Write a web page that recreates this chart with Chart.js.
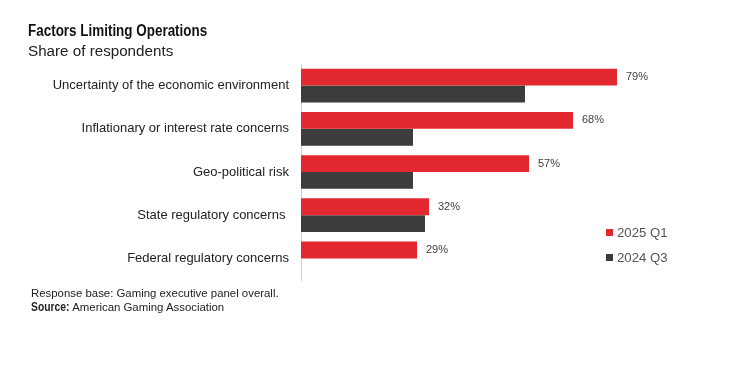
<!DOCTYPE html>
<html>
<head>
<meta charset="utf-8">
<script src="https://cdn.jsdelivr.net/npm/chart.js@4/dist/chart.umd.min.js"></script>
<style>
  html, body { margin: 0; padding: 0; background: #fff; }
  #wrap { position: relative; width: 736px; height: 373px; overflow: hidden; font-family: "Liberation Sans", Arial, sans-serif; }
  #chart { position: absolute; left: 0; top: 0; }
  .title { position: absolute; left: 28px; top: 22px; font-weight: bold; font-size: 16px; color: #111; white-space: nowrap; transform: scaleX(0.84); transform-origin: 0 0; }
  .subtitle { position: absolute; left: 28px; top: 42px; font-size: 15.2px; color: #222; white-space: nowrap; }
  .note { position: absolute; left: 31px; font-size: 11.4px; color: #222; white-space: nowrap; }
  .note b { display: inline-block; transform: scaleX(0.86); transform-origin: 0 0; margin-right: -6px; font-size: 12px; }
  .legend { position: absolute; left: 606px; font-size: 13.2px; color: #555; white-space: nowrap; }
  .legend span.sw { display: inline-block; width: 7px; height: 7px; margin-right: 4px; vertical-align: 1px; }
</style>
</head>
<body>
<div id="wrap">
  <canvas id="chart" width="736" height="373"></canvas>
  <div class="title">Factors Limiting Operations</div>
  <div class="subtitle">Share of respondents</div>
  <div class="note" style="top:287px">Response base: Gaming executive panel overall.</div>
  <div class="note" style="top:300px"><b>Source:</b> American Gaming Association</div>
  <div id="legend"></div>
</div>
<script>
const categories = [
  "Uncertainty of the economic environment",
  "Inflationary or interest rate concerns",
  "Geo-political risk",
  "State regulatory concerns ",
  "Federal regulatory concerns"
];
const seriesNames = ["2025 Q1", "2024 Q3"];
const values2025Q1 = [79, 68, 57, 32, 29];
const values2024Q3 = [56, 28, 28, 31, null];
const seriesColors = ["#E3292F", "#3C3C3D"];

const legendEl = document.getElementById('legend');
seriesNames.forEach((n, i) => {
  const d = document.createElement('div');
  d.className = 'legend';
  d.style.top = (225 + i * 25) + 'px';
  d.innerHTML = '<span class="sw" style="background:' + seriesColors[i] + '"></span>' + n;
  legendEl.appendChild(d);
});

const labelPlugin = {
  id: 'valueLabels',
  afterDatasetsDraw(chart) {
    const ctx = chart.ctx;
    const meta = chart.getDatasetMeta(0);
    ctx.save();
    ctx.font = '11px "Liberation Sans", Arial, sans-serif';
    ctx.fillStyle = '#404040';
    ctx.textAlign = 'left';
    ctx.textBaseline = 'middle';
    meta.data.forEach((bar, i) => {
      const v = chart.data.datasets[0].data[i];
      if (v == null) return;
      ctx.fillText(v + '%', bar.x + 9, bar.y);
    });
    ctx.restore();
  }
};

new Chart(document.getElementById('chart'), {
  type: 'bar',
  data: {
    labels: categories,
    datasets: [
      { label: seriesNames[0], data: values2025Q1, backgroundColor: seriesColors[0] },
      { label: seriesNames[1], data: values2024Q3, backgroundColor: seriesColors[1] }
    ]
  },
  options: {
    indexAxis: 'y',
    responsive: false,
    animation: false,
    layout: { padding: { left: 0, right: 35, top: 64, bottom: 93 } },
    datasets: { bar: { categoryPercentage: 0.78, barPercentage: 1.0 } },
    plugins: { legend: { display: false }, tooltip: { enabled: false } },
    scales: {
      x: { display: false, min: 0, max: 100 },
      y: {
        afterFit(scale) { scale.width = 301; },
        grid: { display: false, drawTicks: false },
        border: { display: true, color: '#d0d0d0', width: 1 },
        ticks: { padding: 12, color: '#222', font: { family: '"Liberation Sans", Arial, sans-serif', size: 13 } }
      }
    }
  },
  plugins: [labelPlugin]
});
</script>
</body>
</html>
